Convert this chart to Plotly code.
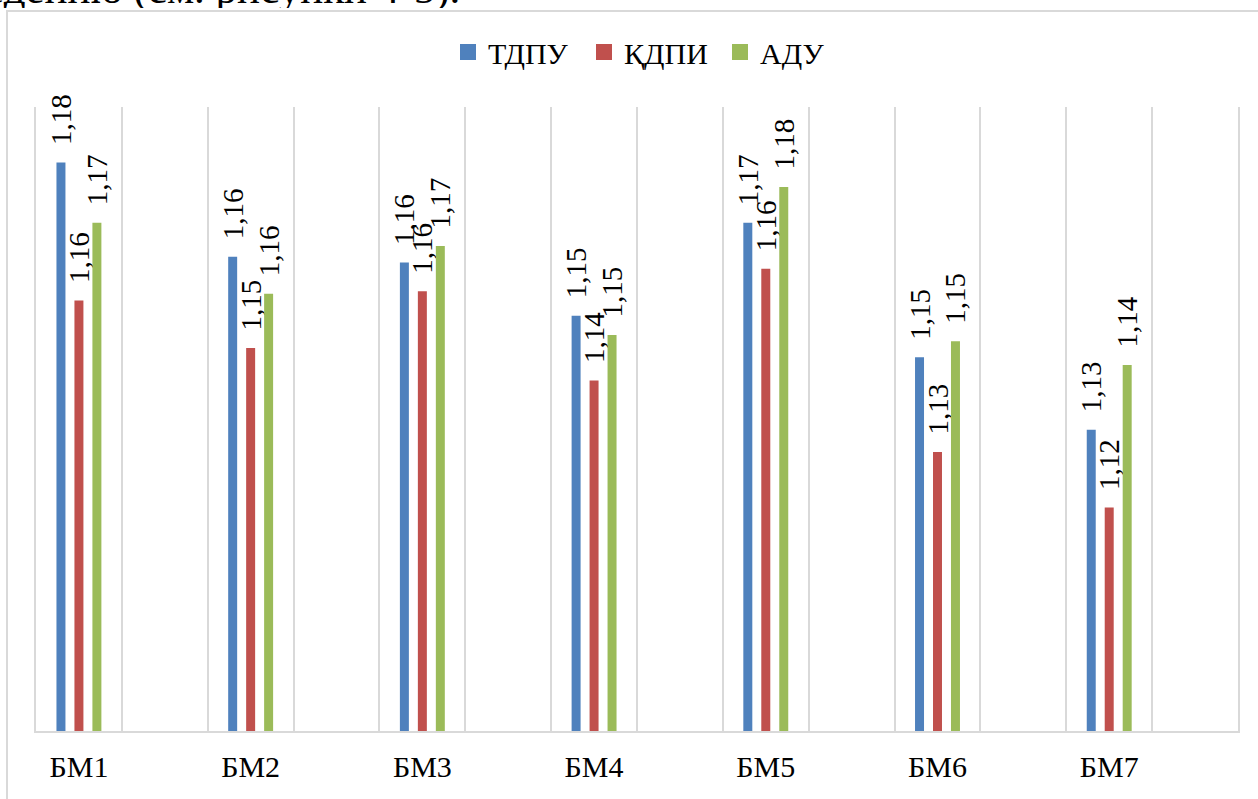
import plotly.graph_objects as go

categories = ["БМ1", "БМ2", "БМ3", "БМ4", "БМ5", "БМ6", "БМ7"]
series_names = ["ТДПУ", "ҚДПИ", "АДУ"]
tdpu = [1.1802, 1.1636, 1.1626, 1.1532, 1.1696, 1.1459, 1.1331]
kdpi = [1.1559, 1.1475, 1.1575, 1.1418, 1.1615, 1.1292, 1.1194]
adu = [1.1696, 1.1571, 1.1655, 1.1498, 1.1759, 1.1487, 1.1445]
colors = ["#4F81BD", "#C0504D", "#9BBB59"]

FONT = "Liberation Serif"
GRID = "#D9D9D9"

# plot-area geometry in pixels (for paper conversions of decorations)
W, H = 1258, 799
L, R, T, B = 36, 1238, 107, 731
def px(x):
    return (x - L) / (R - L)
def py(y):
    return (B - y) / (B - T)

positions = [2 * i for i in range(len(categories))]

fig = go.Figure()
for name, vals, col in zip(series_names, [tdpu, kdpi, adu], colors):
    fig.add_trace(go.Bar(
        name=name,
        x=positions,
        y=vals,
        showlegend=False,
        marker=dict(color=col, line=dict(width=0)),
        text=["\u00a0\u00a0" + f"{v:.2f}".replace(".", ",") for v in vals],
        textposition="outside",
        textangle=-90,
        constraintext="none",
        cliponaxis=False,
        textfont=dict(family=FONT, size=29, color="black"),
        outsidetextfont=dict(family=FONT, size=29, color="black"),
    ))
# legend entries (square keys like the original)
for name, col in zip(series_names, colors):
    fig.add_trace(go.Scatter(
        name=name, x=[None], y=[None], mode="markers",
        marker=dict(symbol="square", size=16, color=col),
        showlegend=True, hoverinfo="skip",
    ))

fig.update_layout(
    width=W, height=H,
    font=dict(family=FONT, color="black"),
    margin=dict(l=L, r=W - R, t=T, b=H - B, autoexpand=False),
    paper_bgcolor="white",
    plot_bgcolor="white",
    barmode="group",
    bargap=0.686,
    bargroupgap=0.5,
    showlegend=True,
    legend=dict(
        orientation="h",
        x=px(448), xanchor="left",
        y=py(52), yanchor="middle",
        font=dict(family=FONT, size=30, color="black"),
        itemwidth=30,
        entrywidth=91,
        bgcolor="rgba(0,0,0,0)",
        traceorder="normal",
    ),
    xaxis=dict(
        range=[-0.5, 13.5],
        tickmode="array",
        tickvals=positions,
        ticktext=categories,
        showgrid=False,
        zeroline=False,
        showline=True,
        linecolor=GRID,
        linewidth=2,
        ticks="",
        ticklabelstandoff=8,
        tickfont=dict(family=FONT, size=30, color="black"),
        minor=dict(tickmode="linear", tick0=-0.5, dtick=1, showgrid=True,
                   gridcolor=GRID, gridwidth=2, ticks=""),
    ),
    yaxis=dict(
        range=[1.08, 1.19],
        showticklabels=False,
        showgrid=False,
        zeroline=False,
        showline=True,
        mirror=True,
        linecolor=GRID,
        linewidth=2,
        ticks="",
    ),
    shapes=[dict(
        type="rect", xref="paper", yref="paper",
        x0=px(7), x1=px(1275), y0=py(815), y1=py(11),
        line=dict(color=GRID, width=2), fillcolor="rgba(0,0,0,0)", layer="below",
    )],
    annotations=[dict(
        text="заведению (см. рисунки 4-5).",
        xref="paper", yref="paper",
        x=px(-73), y=py(10), xanchor="left", yanchor="bottom",
        height=43, valign="top",
        showarrow=False,
        font=dict(family=FONT, size=43, color="black"),
    )],
)

fig.write_html(
    "out.html",
    config={"displayModeBar": False},
    post_script="document.body.style.margin='0';document.body.style.overflow='hidden';",
)
